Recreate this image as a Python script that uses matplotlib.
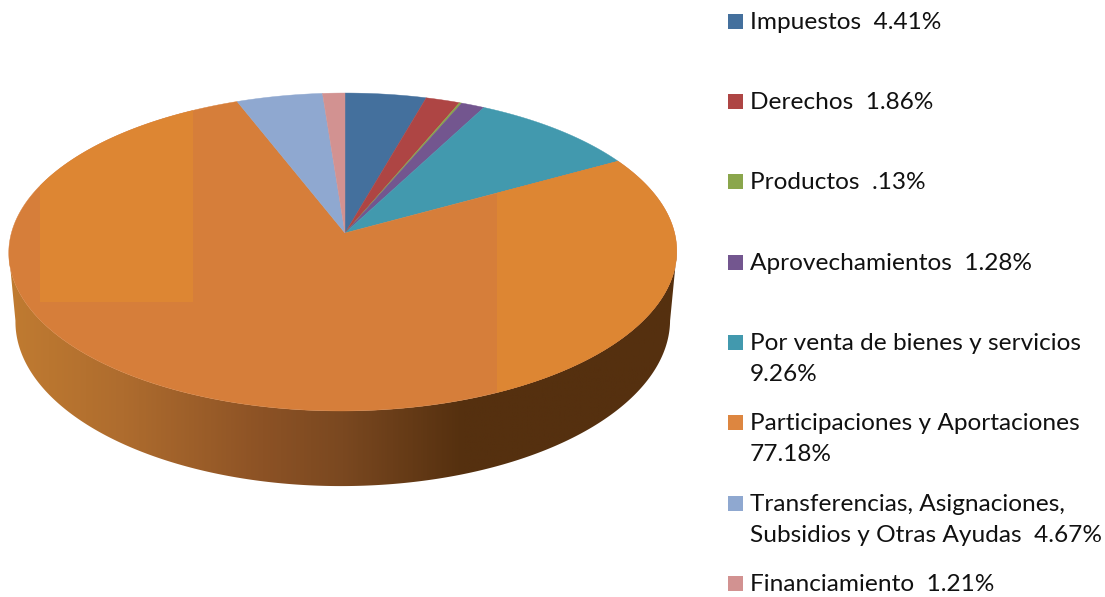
import numpy as np
import matplotlib
matplotlib.use("Agg")
import matplotlib.pyplot as plt
from matplotlib.colors import LinearSegmentedColormap
from matplotlib.patches import Polygon, Rectangle

# values of the pie, clockwise from 12 o'clock
names = ["Impuestos", "Derechos", "Productos", "Aprovechamientos",
         "Por venta de bienes y servicios", "Participaciones y Aportaciones",
         "Transferencias, Asignaciones,\nSubsidios y Otras Ayudas", "Financiamiento"]
values = [4.41, 1.86, 0.13, 1.28, 9.26, 77.18, 4.67, 1.21]
value_labels = ["4.41%", "1.86%", ".13%", "1.28%", "9.26%", "77.18%", "4.67%", "1.21%"]
wrap_value = [False, False, False, False, True, True, False, False]
colors = ["#44709D", "#AE4544", "#8AA64C", "#73568F", "#4299AE", "#D67E3A", "#8FA8D0", "#D29291"]
legend_colors = ["#44709D", "#AE4544", "#8AA64C", "#73568F", "#4299AE", "#DD8640", "#8FA8D0", "#D29291"]
legend_y = [21, 101, 181, 262, 342, 422, 503, 583]

W, H = 1105, 597
APEX = (345, 233)
K = 0.1195  # perspective of the disc


def project(t, sx=1.0, sy=1.0, dy=0.0):
    # t is the clockwise angle from the top, disc seen in perspective
    u, v = np.sin(t), np.cos(t)
    w = 1 + K * v
    x = APEX[0] - 2 + 2 * v + 331.6 * sx * u / w
    y = APEX[1] + dy - 156.7 * sy * v / w
    return x, y


fig = plt.figure(figsize=(W / 100, H / 100), dpi=100)
ax = fig.add_axes([0, 0, 1, 1])

# side wall of the cylinder, gradient clipped to the outline
t0 = np.arccos(-K)
t_side = np.linspace(t0, 2 * np.pi - t0, 300)
x_top, y_top = project(t_side)
x_bot, y_bot = project(t_side, sx=0.98, sy=1.04, dy=68)
side_xy = np.column_stack([np.r_[x_top, x_bot[::-1]], np.r_[y_top, y_bot[::-1]]])
side = Polygon(side_xy, closed=True, facecolor="none", edgecolor="none")
ax.add_patch(side)
cmap = LinearSegmentedColormap.from_list("side", [
    (0.0, "#C07B31"), (0.17, "#AE6C2E"), (0.38, "#8C5225"), (0.5, "#7A4820"),
    (0.68, "#55300F"), (1.0, "#55300F")])
grad = np.linspace(0, 1, 400).reshape(1, -1)
img = ax.imshow(grad, cmap=cmap, extent=(9, 677, 500, 240), aspect="auto", zorder=1)
img.set_clip_path(side)

ax.set_xlim(0, W)
ax.set_ylim(H, 0)
ax.axis("off")

# top face
edges = np.cumsum([0] + values) / sum(values) * 2 * np.pi
for i, c in enumerate(colors):
    t = np.linspace(edges[i], edges[i + 1], max(4, int(values[i] * 6)))
    x, y = project(t)
    xy = np.column_stack([np.r_[APEX[0], x], np.r_[APEX[1], y]])
    wedge = Polygon(xy, closed=True, facecolor=c, edgecolor=c, linewidth=0.3, zorder=2)
    ax.add_patch(wedge)
    if i == 5:
        # the lighter rectangles left in the orange slice
        for rx, ry, rw, rh in [(40, 60, 153, 242), (497, 60, 200, 400)]:
            r = Rectangle((rx, ry), rw, rh, facecolor="#DD8633", edgecolor="none", zorder=3)
            ax.add_patch(r)
            r.set_clip_path(wedge)

# legend
for i, name in enumerate(names):
    yc = legend_y[i]
    ax.add_patch(Rectangle((728, yc - 7.5), 15, 15, facecolor=legend_colors[i], edgecolor="none"))
    lines = name.split("\n")
    if wrap_value[i]:
        lines.append(value_labels[i])
    else:
        lines[-1] = lines[-1] + "  " + value_labels[i]
    for j, line in enumerate(lines):
        ax.text(749.5, yc + 8 + j * 31, line, fontsize=17.6, family="Lato", color="#111111",
                va="baseline", ha="left")

fig.savefig("out.png", dpi=100)
